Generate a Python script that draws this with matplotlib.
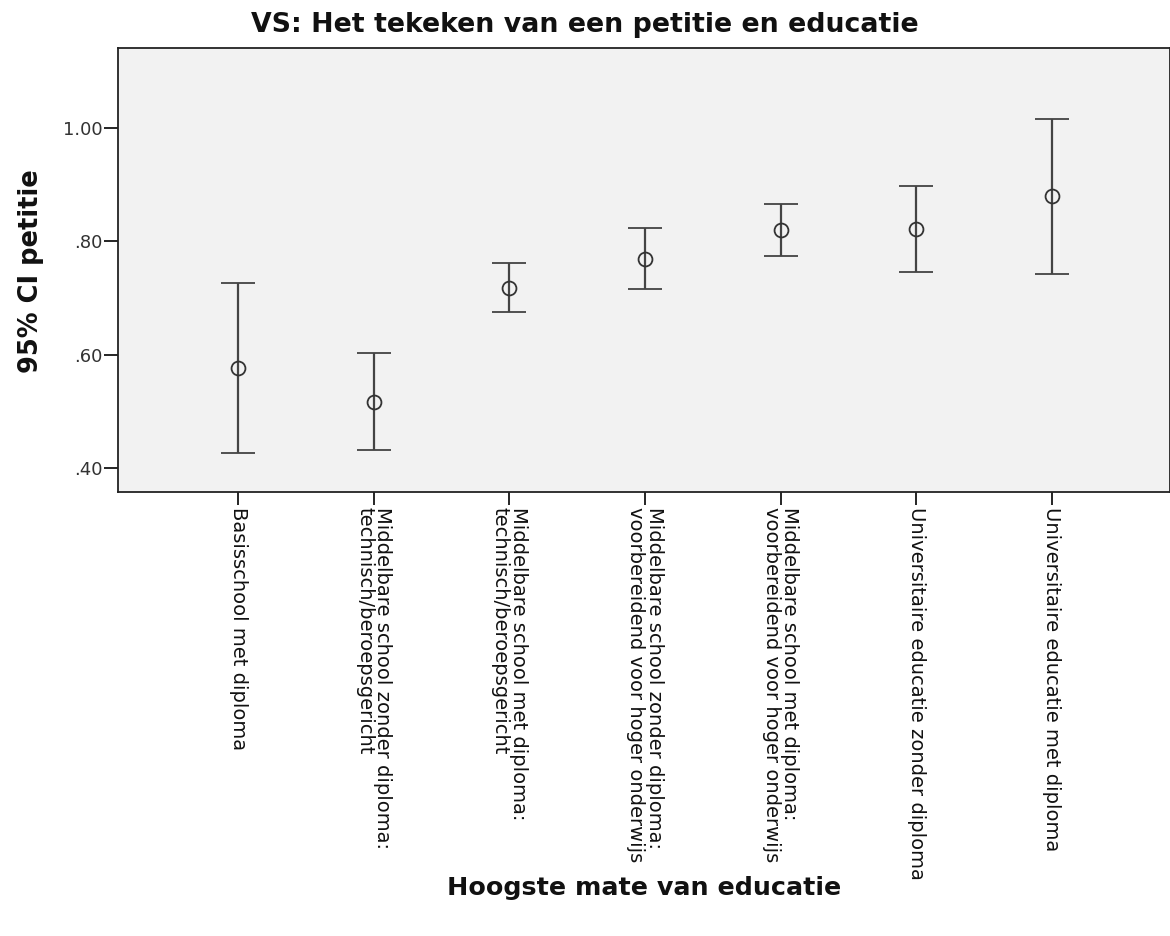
import matplotlib
matplotlib.use("Agg")
import matplotlib.pyplot as plt
import numpy as np

categories = [
    "Basisschool met diploma",
    "Middelbare school zonder diploma:\ntechnisch/beroepsgericht",
    "Middelbare school met diploma:\ntechnisch/beroepsgericht",
    "Middelbare school zonder diploma:\nvoorbereidend voor hoger onderwijs",
    "Middelbare school met diploma:\nvoorbereidend voor hoger onderwijs",
    "Universitaire educatie zonder diploma",
    "Universitaire educatie met diploma",
]
means = [0.576, 0.517, 0.718, 0.769, 0.820, 0.822, 0.880]
lower = [0.426, 0.432, 0.675, 0.716, 0.775, 0.746, 0.743]
upper = [0.727, 0.603, 0.761, 0.824, 0.866, 0.898, 1.016]
yticks = [0.40, 0.60, 0.80, 1.00]
ytick_labels = [".40", ".60", ".80", "1.00"]

plt.rcParams['font.family'] = ['DejaVu Sans']

fig = plt.figure(figsize=(11.7, 9.36), dpi=100)
ax = fig.add_axes([118/1170, 1-492/936, 1-118/1170, (492-48)/936])
ax.set_facecolor('#f2f2f2')

x = np.arange(len(categories))
means_a = np.array(means)
yerr = np.vstack([means_a - np.array(lower), np.array(upper) - means_a])
ax.errorbar(x, means_a, yerr=yerr, fmt='o', mfc='none', mec='#333333', ms=10,
            mew=1.3, ecolor='#444444', elinewidth=1.6, capsize=12.5, capthick=1.6)

ax.set_xlim(-0.885, 6.87)
ax.set_ylim(0.358, 1.141)
ax.set_yticks(yticks)
ax.set_yticklabels(ytick_labels, fontsize=13, color='#333333')
ax.set_xticks(x)
ax.set_xticklabels(categories, rotation=270, ha='center', va='top', fontsize=14,
                   color='#111111', linespacing=0.95, multialignment='left')
ax.tick_params(axis='y', direction='out', length=10, width=1.2, pad=1)
ax.tick_params(axis='x', direction='out', length=9.5, width=1.2, pad=1.5)
for s in ax.spines.values():
    s.set_color('#222222')
    s.set_linewidth(1.3)

fig.text(585/1170, 1-25/936, "VS: Het tekeken van een petitie en educatie",
         ha='center', va='center', fontsize=19.3, fontweight='bold', color='#111111')
fig.text(644/1170, 1-888/936, "Hoogste mate van educatie",
         ha='center', va='center', fontsize=18.3, fontweight='bold', color='#111111')
fig.text(31/1170, 1-271/936, "95% CI petitie", rotation=90,
         ha='center', va='center', fontsize=18.5, fontweight='bold', color='#111111')

fig.savefig("out.png", dpi=100)
